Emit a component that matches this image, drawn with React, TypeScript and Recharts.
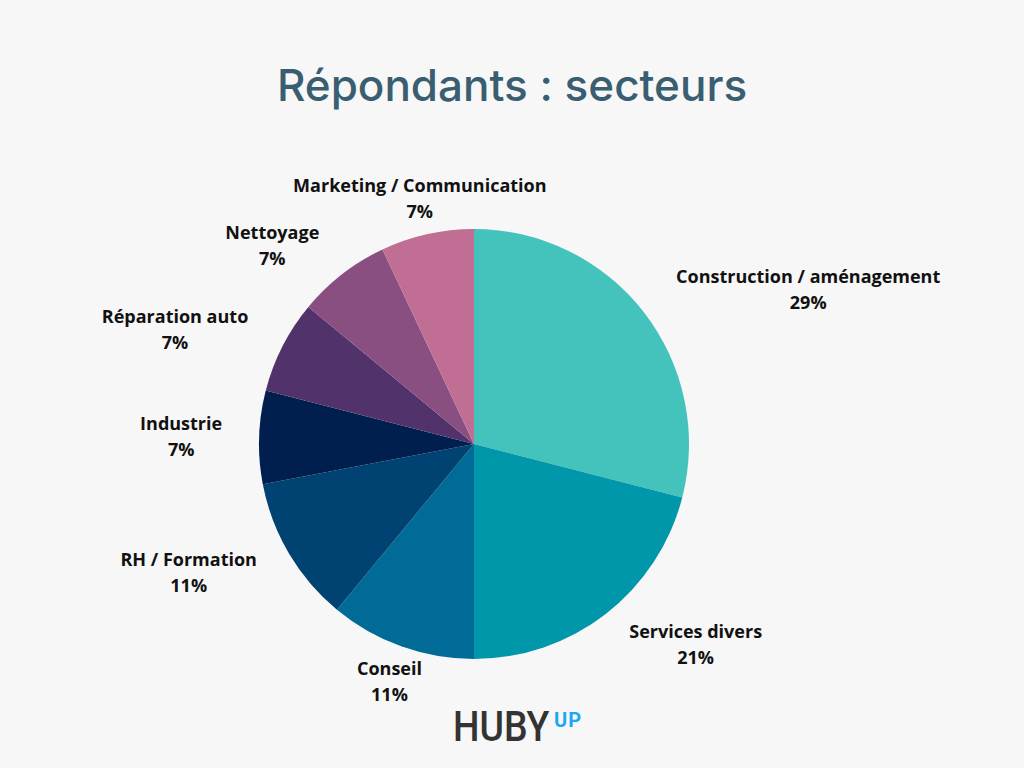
import React from 'react';
import { PieChart, Pie, Cell } from 'recharts';

const SECTORS = [
  'Construction / aménagement',
  'Services divers',
  'Conseil',
  'RH / Formation',
  'Industrie',
  'Réparation auto',
  'Nettoyage',
  'Marketing / Communication',
];
const SHARES = [29, 21, 11, 11, 7, 7, 7, 7];

const COLORS = ['#44C2BC', '#0097AB', '#006B96', '#004373', '#001F4F', '#51326B', '#8A4F81', '#C06E93'];

// hand-tuned label nudges, like the original layout
const NUDGE: [number, number][] = [
  [109, 21], [47, -24], [12, -30], [-40, -16], [-8, 2], [-45, 15], [-27, 27], [8, 33],
];

const data = SECTORS.map((name, i) => ({ name, value: SHARES[i] }));

const RAD = Math.PI / 180;

const renderLabel = (props: any) => {
  const { cx, cy, midAngle, outerRadius, index, name, value } = props;
  const r = outerRadius + 70;
  const [nx, ny] = NUDGE[index] || [0, 0];
  const x = cx + r * Math.cos(-midAngle * RAD) + nx;
  const y = cy + r * Math.sin(-midAngle * RAD) + ny;
  return (
    <text
      x={x}
      y={y}
      textAnchor="middle"
      fill="#111"
      fontFamily='"Open Sans", sans-serif'
      fontWeight={700}
      fontSize={18}
    >
      <tspan x={x} dy={-7}>{name}</tspan>
      <tspan x={x} dy={26}>{value}%</tspan>
    </text>
  );
};

export default function App() {
  return (
    <div
      style={{
        position: 'absolute',
        left: 0,
        top: 0,
        width: 1024,
        height: 768,
        background: '#F7F7F7',
        overflow: 'hidden',
      }}
    >
      <div
        style={{
          position: 'absolute',
          top: 58,
          width: 1024,
          textAlign: 'center',
          fontFamily: 'Inter, sans-serif',
          fontWeight: 500,
          fontSize: 44,
          color: '#3A5E71',
        }}
      >
        Répondants : secteurs
      </div>
      <div style={{ position: 'absolute', left: 0, top: 0 }}>
        <PieChart width={1024} height={768} margin={{ top: 0, right: 0, bottom: 0, left: 0 }}>
          <Pie
            data={data}
            dataKey="value"
            nameKey="name"
            cx={474}
            cy={444}
            outerRadius={215}
            startAngle={90}
            endAngle={-270}
            stroke="none"
            label={renderLabel}
            labelLine={false}
            isAnimationActive={false}
          >
            {data.map((entry, i) => (
              <Cell key={`cell-${i}`} fill={COLORS[i]} />
            ))}
          </Pie>
        </PieChart>
      </div>
      <div
        style={{
          position: 'absolute',
          left: 453,
          top: 703,
          fontFamily: 'Roboto, sans-serif',
          fontWeight: 500,
          fontSize: 42,
          lineHeight: '48px',
          color: '#333',
          transform: 'scaleX(0.89)',
          transformOrigin: 'left top',
          whiteSpace: 'nowrap',
        }}
      >
        HUBY
      </div>
      <div
        style={{
          position: 'absolute',
          left: 554,
          top: 709,
          fontFamily: 'Roboto, sans-serif',
          fontWeight: 700,
          fontSize: 20,
          lineHeight: '22px',
          letterSpacing: 1,
          color: '#1EA7F2',
        }}
      >
        UP
      </div>
    </div>
  );
}
